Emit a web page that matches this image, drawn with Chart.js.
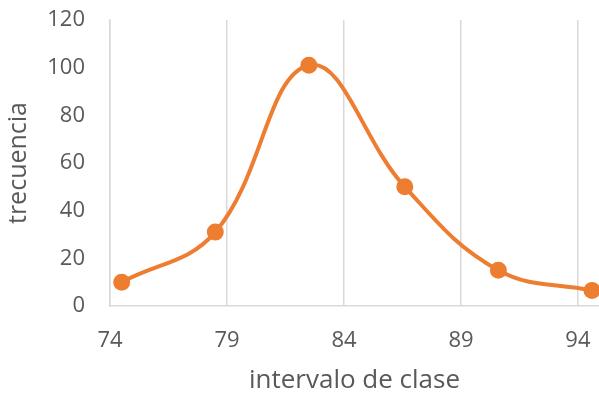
<!DOCTYPE html>
<html>
<head>
<meta charset="utf-8">
<script src="https://cdn.jsdelivr.net/npm/chart.js@4"></script>
<style>
  html, body { margin: 0; padding: 0; background: #fff; }
  #wrap { width: 599px; height: 396px; }
</style>
</head>
<body>
<div id="wrap"><canvas id="myChart" width="599" height="396"></canvas></div>
<script>
// class marks and frequencies
const marcas = [74.5, 78.5, 82.5, 86.6, 90.6, 94.6];
const frecuencias = [10, 31, 101, 50, 15, 6.5];
const xTicks = [74, 79, 84, 89, 94];
const yTicks = [0, 20, 40, 60, 80, 100, 120];

const ORANGE = '#ED7D31';
const GREY_TEXT = '#595959';
const GRID = '#d9d9d9';
const FONT = "'Open Sans', sans-serif";

const points = marcas.map((m, i) => ({ x: m, y: frecuencias[i] }));

const conf = {
  type: 'line',
  data: {
    datasets: [{
      data: points,
      borderColor: ORANGE,
      backgroundColor: ORANGE,
      borderWidth: 4,
      pointRadius: 6.5,
      pointHoverRadius: 6.5,
      tension: 0.4,
      clip: false
    }]
  },
  options: {
    responsive: false,
    animation: false,
    layout: { autoPadding: false, padding: { top: 20, right: 0, left: 0, bottom: 0 } },
    plugins: {
      legend: { display: false },
      tooltip: { enabled: false }
    },
    scales: {
      x: {
        type: 'linear',
        min: 74,
        max: 94.9,
        afterBuildTicks: (s) => { s.ticks = xTicks.map(v => ({ value: v })); },
        afterFit: (s) => { s.height = 90; s.paddingRight = 0; s.paddingLeft = 0; },
        grid: { display: true, color: GRID, lineWidth: 1.5, drawTicks: false },
        border: { display: true, color: GRID, width: 1.5 },
        ticks: { color: GREY_TEXT, font: { family: FONT, size: 22 }, padding: 22, maxRotation: 0 },
        title: {
          display: true,
          text: 'intervalo de clase',
          color: GREY_TEXT,
          font: { family: FONT, size: 26 },
          padding: { top: 0, bottom: 0 }
        }
      },
      y: {
        min: 0,
        max: 120,
        afterBuildTicks: (s) => { s.ticks = yTicks.map(v => ({ value: v })); },
        afterFit: (s) => { s.width = 110; s.paddingTop = 0; s.paddingBottom = 0; },
        grid: { display: false, drawTicks: false },
        border: { display: true, color: GRID, width: 1.5 },
        ticks: { color: GREY_TEXT, font: { family: FONT, size: 22 }, padding: 25 },
        title: {
          display: true,
          text: 'trecuencia',
          color: GREY_TEXT,
          font: { family: FONT, size: 25 },
          padding: { top: 4, bottom: 0 }
        }
      }
    }
  }
};

const myChart = new Chart(document.getElementById('myChart'), conf);
</script>
</body>
</html>
